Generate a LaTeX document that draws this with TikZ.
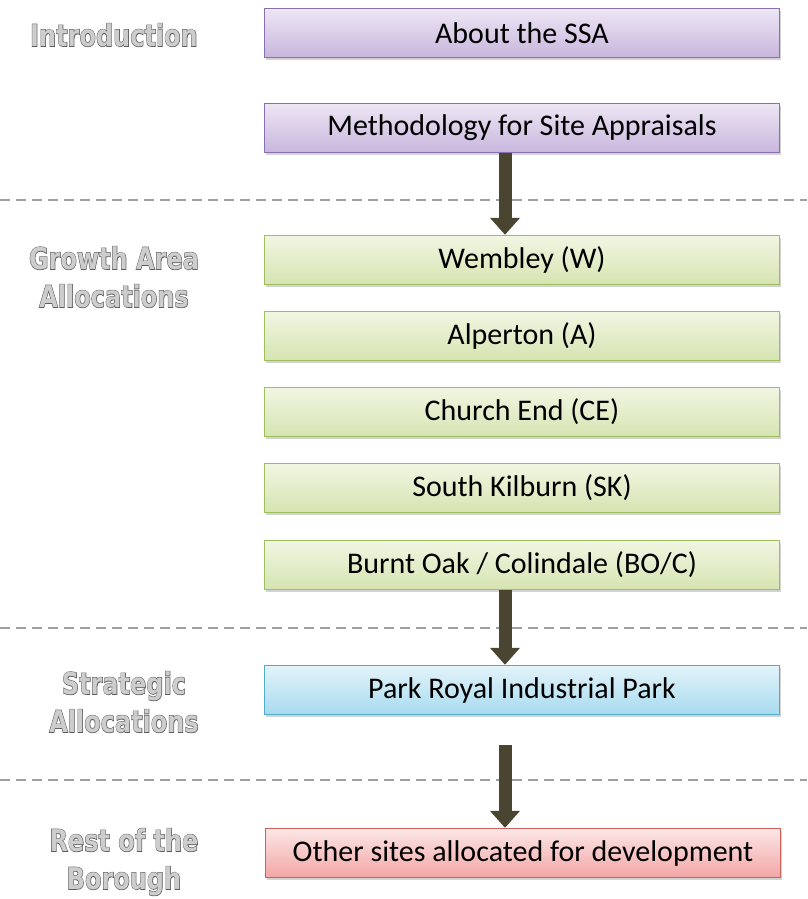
\documentclass[tikz,border=0pt]{standalone}
\usepackage{fontspec}
\setmainfont{Carlito}
\newfontfamily\secthin{DejaVu Sans}
\newfontfamily\secthick{DejaVu Sans}[BoldFeatures={FakeBold=4}]
\usetikzlibrary{arrows.meta,shadows,positioning}

\definecolor{introline}{HTML}{8A6FAE}
\definecolor{introtop}{HTML}{EDE6F4}
\definecolor{introbot}{HTML}{C8B6DD}
\definecolor{growthline}{HTML}{9FBF5E}
\definecolor{growthtop}{HTML}{F1F6E2}
\definecolor{growthbot}{HTML}{D6E4B2}
\definecolor{stratline}{HTML}{52ACC8}
\definecolor{strattop}{HTML}{E3F3FA}
\definecolor{stratbot}{HTML}{A7DBEF}
\definecolor{restline}{HTML}{C9625E}
\definecolor{resttop}{HTML}{FCE6E6}
\definecolor{restbot}{HTML}{F2A6A5}
\definecolor{flowbrown}{HTML}{4A4530}
\definecolor{secline}{HTML}{5E5E5E}
\definecolor{secfill}{HTML}{CDCDCD}

\newcommand{\embossed}[1]{\scalebox{1}[1.25]{\rlap{\textcolor{secline}{\secthick\bfseries #1}}\textcolor{secfill}{\secthin\bfseries #1}}}

\begin{document}
\begin{tikzpicture}[x=1pt,y=-1pt,
   box/.style={draw=#1line,top color=#1top,bottom color=#1bot,line width=1.4pt,
      minimum width=515pt,minimum height=49pt,inner sep=0pt,
      font=\fontsize{30}{34}\selectfont,
      drop shadow={opacity=0.35,shadow xshift=1pt,shadow yshift=-2.5pt}},
   sect/.style={align=center,font=\fontsize{24}{38}\selectfont},
   flow/.style={draw=flowbrown,line width=13pt,-{Triangle[width=29pt,length=17pt]}},
   divider/.style={draw=gray!75,line width=2pt,dash pattern=on 10pt off 6pt}]
   \useasboundingbox (0,0) rectangle (807,899);

   \draw[divider] (0,200) -- (807,200);
   \draw[divider] (0,628) -- (807,628);
   \draw[divider] (0,780) -- (807,780);

   \node[sect] (lintro)  at (114,35)  {\embossed{Introduction}};
   \node[sect] (lgrowth) at (114,277) {\embossed{Growth Area}\\\embossed{Allocations}};
   \node[sect] (lstrat)  at (124,702) {\embossed{Strategic}\\\embossed{Allocations}};
   \node[sect] (lrest)   at (124,862) {\embossed{Rest of the}\\\embossed{Borough}};

   \node[box=intro]  (about) at (522,33)  {About the SSA};
   \node[box=intro]  (meth)  at (522,128) {Methodology for Site Appraisals};
   \node[box=growth] (wem)   at (522,260) {Wembley (W)};
   \node[box=growth] (alp)   at (522,336) {Alperton (A)};
   \node[box=growth] (ce)    at (522,412) {Church End (CE)};
   \node[box=growth] (sk)    at (522,488) {South Kilburn (SK)};
   \node[box=growth] (bo)    at (522,565) {Burnt Oak / Colindale (BO/C)};
   \node[box=strat]  (park)  at (522,690) {Park Royal Industrial Park};
   \node[box=rest]   (other) at (523,853) {Other sites allocated for development};

   \coordinate (gap) at ([xshift=-17pt,yshift=-30pt]park.south);
   \draw[flow] ([xshift=-17pt]meth.south) -- ([xshift=-17pt]wem.north);
   \draw[flow] ([xshift=-17pt]bo.south) -- ([xshift=-17pt]park.north);
   \draw[flow] (gap) -- ([xshift=-18pt]other.north);
\end{tikzpicture}
\end{document}
